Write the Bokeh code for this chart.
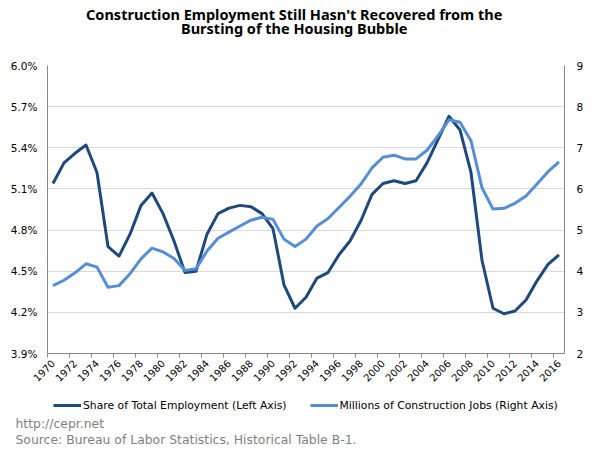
import math
from bokeh.plotting import figure
from bokeh.layouts import column
from bokeh.models import (Range1d, LinearAxis, FixedTicker, PrintfTickFormatter,
                          Legend, LegendItem, Label, Title)
from bokeh.embed import file_html
from bokeh.resources import INLINE

# ---------------- data ----------------
years = list(range(1970, 2017))
share_pct = [5.14, 5.29, 5.36, 5.42, 5.22, 4.68, 4.61, 4.77, 4.98, 5.07,
             4.92, 4.72, 4.49, 4.50, 4.77, 4.92, 4.96, 4.98, 4.97, 4.92,
             4.81, 4.40, 4.23, 4.31, 4.45, 4.49, 4.62, 4.72, 4.87, 5.06,
             5.14, 5.16, 5.14, 5.16, 5.29, 5.46, 5.63, 5.53, 5.22, 4.58,
             4.23, 4.19, 4.21, 4.29, 4.43, 4.55, 4.62]
jobs_millions = [3.65, 3.78, 3.96, 4.18, 4.10, 3.61, 3.65, 3.94, 4.30, 4.56,
                 4.47, 4.31, 4.02, 4.06, 4.49, 4.80, 4.95, 5.10, 5.24, 5.31,
                 5.26, 4.78, 4.60, 4.78, 5.10, 5.28, 5.55, 5.82, 6.12, 6.51,
                 6.77, 6.82, 6.73, 6.73, 6.94, 7.29, 7.68, 7.62, 7.17, 6.03,
                 5.51, 5.53, 5.65, 5.83, 6.12, 6.42, 6.66]
left_ticks = [3.9, 4.2, 4.5, 4.8, 5.1, 5.4, 5.7, 6.0]
right_ticks = [2, 3, 4, 5, 6, 7, 8, 9]
year_labels = years[::2]

title_lines = ["Construction Employment Still Hasn't Recovered from the",
               "Bursting of the Housing Bubble"]
legend_labels = ["Share of Total Employment (Left Axis)",
                 "Millions of Construction Jobs (Right Axis)"]
footer_lines = ["http://cepr.net",
                "Source: Bureau of Labor Statistics, Historical Table B-1."]

# ---------------- styling / layout ----------------
DARK = "#1F497D"
LIGHT = "#558ED5"
AXIS = "#868686"
GRID = "#d9d9d9"
TICK_FONT = "DejaVu Sans"
TEXT_FONT = "DejaVu Sans"
TITLE_FONT = "Noto Sans"

W = 600
H_TOP, H_MAIN, H_BOT = 45, 347, 60        # stacked heights (sum 452)
FL, FR = 47, 564                          # frame left / right (shared by all)
FT, FB = 20, 308                          # frame top / bottom inside main figure


def text_panel(height, **kw):
    """Blank figure; its frame is aligned with the main frame (47..564 px),
    data units are page pixels, y downward."""
    f = figure(width=W, height=height, x_range=Range1d(FL, FR),
               y_range=Range1d(height, 0), x_axis_type=None, y_axis_type=None,
               output_backend="svg", toolbar_location=None,
               min_border=0, outline_line_color=None, **kw)
    f.background_fill_color = "white"
    f.border_fill_color = "white"
    return f


# ---------------- title panel ----------------
top = text_panel(H_TOP)
for txt, base in zip(title_lines, [13.6, 27.6]):
    top.add_layout(Label(x=293.7, y=base, text=txt, text_align="center",
                         text_baseline="alphabetic", text_font=TITLE_FONT,
                         text_font_style="bold", text_font_size="14.5px",
                         text_color="#000000"))

# ---------------- main chart ----------------
x0, x1 = years[0] - 0.5, years[-1] + 0.5
p = figure(width=W, height=H_MAIN, x_range=Range1d(x0, x1),
           y_range=Range1d(left_ticks[0], left_ticks[-1]),
           output_backend="svg", toolbar_location=None,
           min_border_left=FL, min_border_right=W - FR,
           min_border_top=FT, min_border_bottom=H_MAIN - FB)
p.extra_y_ranges = {"jobs": Range1d(right_ticks[0], right_ticks[-1])}
p.outline_line_color = None
p.background_fill_color = "white"
p.border_fill_color = "white"

p.xgrid.visible = False
p.ygrid.ticker = FixedTicker(ticks=left_ticks)
p.ygrid.grid_line_color = GRID
p.ygrid.grid_line_width = 1

xa = p.xaxis[0]
xa.ticker = FixedTicker(ticks=year_labels,
                        minor_ticks=[y - 0.5 for y in year_labels])
xa.major_tick_line_color = None
xa.major_tick_out = 0
xa.major_tick_in = 0
xa.minor_tick_line_color = AXIS
xa.minor_tick_out = 4
xa.minor_tick_in = 0
xa.axis_line_color = AXIS
xa.major_label_orientation = math.pi / 4
xa.major_label_standoff = 4
xa.major_label_text_font = TICK_FONT
xa.major_label_text_font_size = "10px"
xa.major_label_text_color = "#000000"

ya = p.yaxis[0]
ya.ticker = FixedTicker(ticks=left_ticks)
ya.formatter = PrintfTickFormatter(format="%.1f%%")
ya.major_tick_line_color = None
ya.minor_tick_line_color = None
ya.major_tick_out = 0
ya.axis_line_color = AXIS
ya.major_label_standoff = 10
ya.major_label_text_font = TICK_FONT
ya.major_label_text_font_size = "10.5px"
ya.major_label_text_color = "#000000"

ra = LinearAxis(y_range_name="jobs", ticker=FixedTicker(ticks=right_ticks),
                formatter=PrintfTickFormatter(format="%d"))
ra.major_tick_line_color = None
ra.minor_tick_line_color = None
ra.major_tick_out = 0
ra.axis_line_color = AXIS
ra.major_label_standoff = 12
ra.major_label_text_font = TICK_FONT
ra.major_label_text_font_size = "10.5px"
ra.major_label_text_color = "#000000"
p.add_layout(ra, "right")

p.line(years, share_pct, line_color=DARK, line_width=3, line_join="round")
p.line(years, jobs_millions, line_color=LIGHT, line_width=3,
       line_join="round", y_range_name="jobs")

# ---------------- legend + footer panel ----------------
bot = text_panel(H_BOT)
# same series, drawn far outside this panel's pixel ranges -> only legend swatches show
k_share = bot.line(years, share_pct, line_color=DARK, line_width=3)
k_jobs = bot.line(years, jobs_millions, line_color=LIGHT, line_width=3)
legend = Legend(items=[LegendItem(label=legend_labels[0], renderers=[k_share]),
                       LegendItem(label=legend_labels[1], renderers=[k_jobs])],
                orientation="horizontal", location="top_left",
                glyph_width=28, glyph_height=14, label_height=14,
                label_standoff=2, spacing=23, padding=0, margin=6,
                border_line_color=None, background_fill_alpha=0,
                label_text_font=TEXT_FONT, label_text_font_size="10.8px",
                label_text_color="#000000")
bot.add_layout(legend, "center")

bot.add_layout(Title(text=footer_lines[0], align="left", offset=-32,
                     vertical_align="bottom", standoff=-12,
                     text_font=TEXT_FONT, text_font_style="normal",
                     text_font_size="12.4px", text_color="#7f7f7f"), "below")
bot.add_layout(Title(text=footer_lines[1], align="left", offset=-32,
                     vertical_align="bottom", standoff=11,
                     text_font=TEXT_FONT, text_font_style="normal",
                     text_font_size="12.4px", text_color="#7f7f7f"), "below")

layout = column(top, p, bot, spacing=0)
open("out.html", "w").write(file_html(layout, INLINE))
